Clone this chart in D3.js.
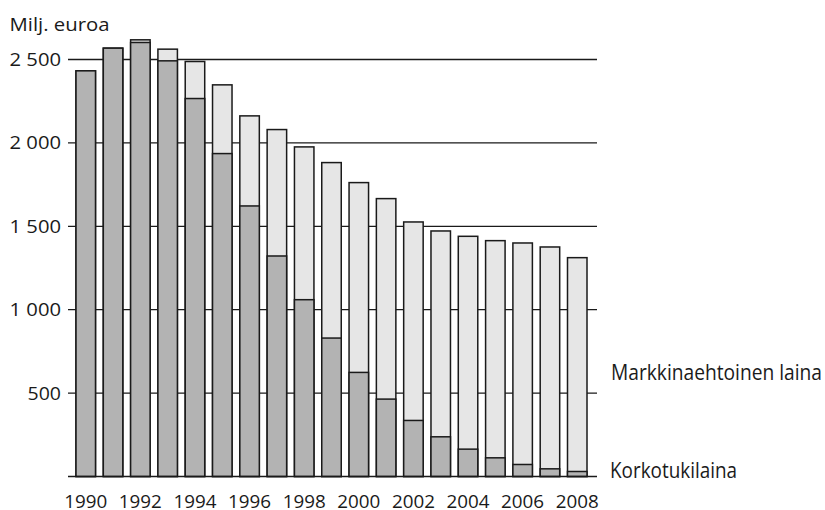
<!DOCTYPE html>
<html>
<head>
<meta charset="utf-8">
<script src="https://cdn.jsdelivr.net/npm/d3@7"></script>
<style>
  html, body { margin: 0; padding: 0; background: #fff; }
  svg text { font-family: "Open Sans", "DejaVu Sans", sans-serif; fill: #1a1a1a; }
</style>
</head>
<body>
<svg id="chart" width="825" height="510"></svg>
<script>
// Vuodet ja arvot (milj. euroa), luettu kuvasta
const years       = d3.range(1990, 2009);
const totals      = [2432, 2568, 2618, 2562, 2488, 2348, 2162, 2080, 1976, 1882, 1762, 1666, 1526, 1472, 1440, 1414, 1400, 1376, 1312];
const korkotuki   = [2432, 2568, 2602, 2492, 2266, 1936, 1622, 1322, 1060, 830, 624, 464, 336, 238, 164, 112, 72, 46, 30];
const yTicks      = [500, 1000, 1500, 2000, 2500];
const xLabelYears = d3.range(1990, 2009, 2);

const svg = d3.select("#chart");

const x = d3.scaleBand()
  .domain(years)
  .range([76, 587])
  .paddingInner(0.286)
  .paddingOuter(0);

const y = d3.scaleLinear()
  .domain([0, 2500])
  .range([476.5, 59.5]);

const fmtTick = d => d3.format(",")(d).replace(",", " ");

/* ── gridlines ─────────────────────────────── */
svg.append("g")
  .selectAll("line")
  .data(yTicks)
  .join("line")
  .attr("x1", 68).attr("x2", 597)
  .attr("y1", d => y(d)).attr("y2", d => y(d))
  .attr("stroke", "#1a1a1a")
  .attr("stroke-width", 1.3);

svg.append("g")
  .selectAll("text")
  .data(yTicks)
  .join("text")
  .attr("x", 61)
  .attr("y", d => y(d) + 6.4)
  .attr("text-anchor", "end")
  .attr("font-size", 18)
  .attr("textLength", d => d >= 1000 ? 51.5 : 33.5)
  .attr("lengthAdjust", "spacingAndGlyphs")
  .text(fmtTick);

/* ── bars ──────────────────────────────────── */
const data = years.map((yr, i) => ({ yr, total: totals[i], dark: korkotuki[i] }));

const gBars = svg.append("g");

gBars.selectAll("rect.total")
  .data(data)
  .join("rect")
  .attr("class", "total")
  .attr("x", d => x(d.yr))
  .attr("width", x.bandwidth())
  .attr("y", d => y(d.total))
  .attr("height", d => y(0) - y(d.total))
  .attr("fill", "#e6e6e6")
  .attr("stroke", "#1a1a1a")
  .attr("stroke-width", 1.5);

gBars.selectAll("rect.dark")
  .data(data)
  .join("rect")
  .attr("class", "dark")
  .attr("x", d => x(d.yr))
  .attr("width", x.bandwidth())
  .attr("y", d => y(d.dark))
  .attr("height", d => y(0) - y(d.dark))
  .attr("fill", "#b3b3b3")
  .attr("stroke", "#1a1a1a")
  .attr("stroke-width", 1.5);

/* ── baseline ──────────────────────────────── */
svg.append("line")
  .attr("x1", 68).attr("x2", 597)
  .attr("y1", y(0)).attr("y2", y(0))
  .attr("stroke", "#1a1a1a")
  .attr("stroke-width", 1.5);

/* ── x labels ──────────────────────────────── */
svg.append("g")
  .selectAll("text")
  .data(xLabelYears)
  .join("text")
  .attr("x", d => x(d) + x.bandwidth() / 2)
  .attr("y", 508)
  .attr("text-anchor", "middle")
  .attr("font-size", 18.5)
  .attr("textLength", 43)
  .attr("lengthAdjust", "spacingAndGlyphs")
  .text(d => d);

/* ── titles & legend ───────────────────────── */
svg.append("text")
  .attr("x", 9.5).attr("y", 30.5)
  .attr("font-size", 18.5)
  .attr("textLength", 100)
  .attr("lengthAdjust", "spacingAndGlyphs")
  .text("Milj. euroa");

svg.append("text")
  .attr("x", 611).attr("y", 380)
  .attr("font-size", 22)
  .attr("textLength", 211)
  .attr("lengthAdjust", "spacingAndGlyphs")
  .text("Markkinaehtoinen laina");

svg.append("text")
  .attr("x", 610).attr("y", 477.5)
  .attr("font-size", 22)
  .attr("textLength", 127)
  .attr("lengthAdjust", "spacingAndGlyphs")
  .text("Korkotukilaina");
</script>
</body>
</html>
